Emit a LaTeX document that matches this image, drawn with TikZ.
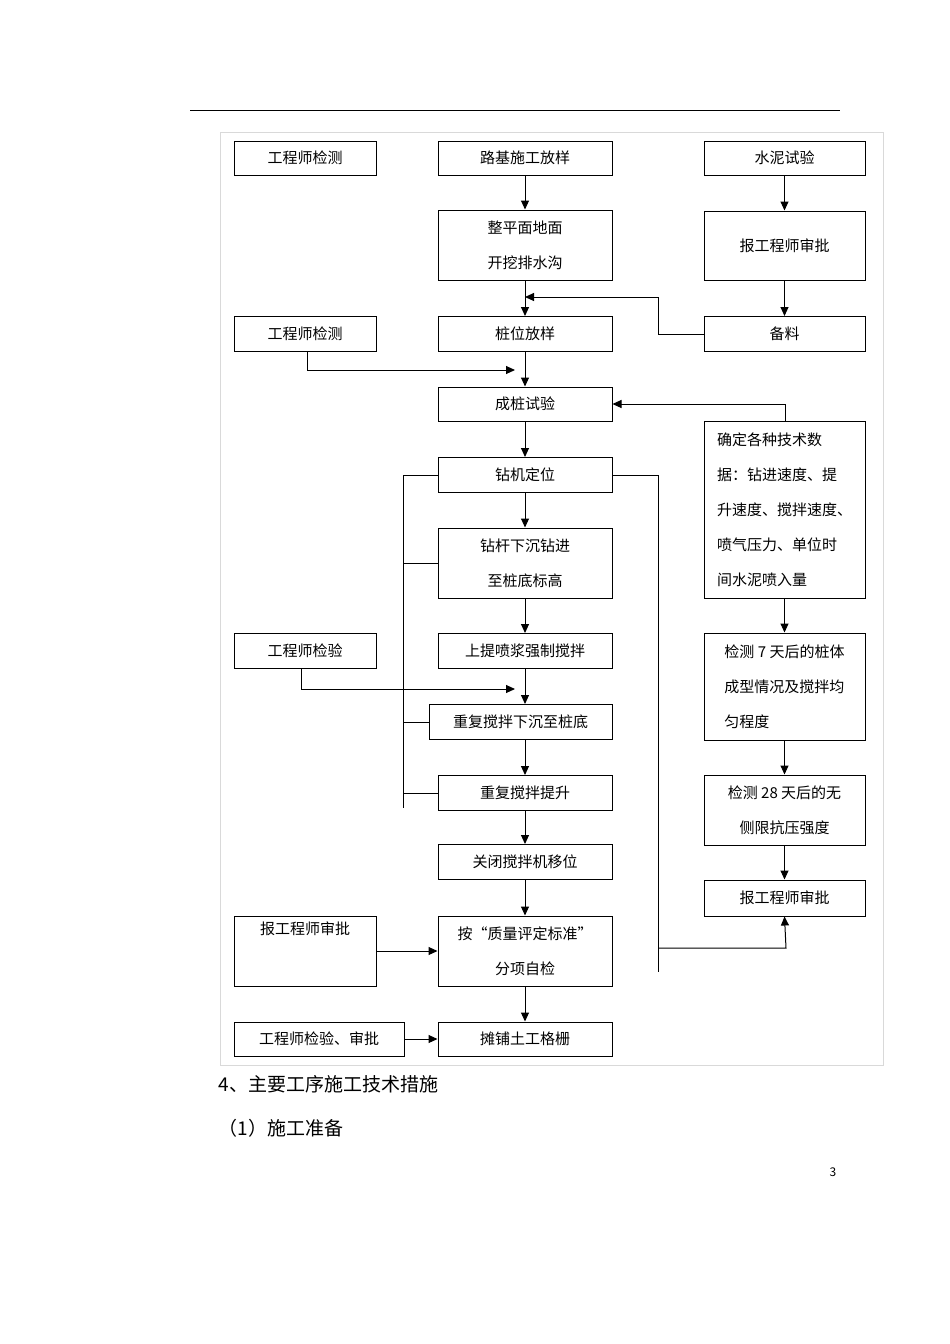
\documentclass[tikz,border=0pt]{standalone}
\usepackage{fontspec}
\setmainfont{Noto Sans CJK SC}
\usetikzlibrary{arrows.meta}
\usetikzlibrary{calc}
\begin{document}
\begin{tikzpicture}[x=1pt, y=-1pt, line width=1pt,
        box_style/.style={draw=black, rectangle, inner sep=0pt, font=\fontsize{15}{35}\selectfont},
        edge_style/.style={draw=black, line width=1pt, -{Triangle[length=9pt,width=8pt]}},
        line_style/.style={draw=black, line width=1pt}]
        \useasboundingbox (0,0) rectangle (950,1344);
        \draw [line width=0.8pt] (190,110) -- (840,110);
        \draw [draw=black!15] (220,132) rectangle (883,1065);

        % left column
        \node [box_style, minimum width=142, minimum height=34](a1) at (305,158) {工程师检测};
        \node [box_style, minimum width=142, minimum height=35](a2) at (305,334) {工程师检测};
        \node [box_style, minimum width=142, minimum height=35](a3) at (305,651) {工程师检验};
        \node [box_style, minimum width=142, minimum height=70, align=center](a4) at (305,951) {报工程师审批\\ \strut};
        \node [box_style, minimum width=170, minimum height=34](a5) at (319,1039) {工程师检验、审批};

        % middle column
        \node [box_style, minimum width=174, minimum height=34](b1) at (525,158) {路基施工放样};
        \node [box_style, minimum width=174, minimum height=70, align=center](b2) at (525,245) {整平面地面\\开挖排水沟};
        \node [box_style, minimum width=174, minimum height=35](b3) at (525,334) {桩位放样};
        \node [box_style, minimum width=174, minimum height=34](b4) at (525,404) {成桩试验};
        \node [box_style, minimum width=174, minimum height=35](b5) at (525,475) {钻机定位};
        \node [box_style, minimum width=174, minimum height=70, align=center](b6) at (525,563) {钻杆下沉钻进\\至桩底标高};
        \node [box_style, minimum width=174, minimum height=35](b7) at (525,651) {上提喷浆强制搅拌};
        \node [box_style, minimum width=183, minimum height=35](b8) at (520.5,722) {重复搅拌下沉至桩底};
        \node [box_style, minimum width=174, minimum height=35](b9) at (525,793) {重复搅拌提升};
        \node [box_style, minimum width=174, minimum height=35](b10) at (525,862) {关闭搅拌机移位};
        \node [box_style, minimum width=174, minimum height=70, align=center](b11) at (525,951) {按“质量评定标准”\\分项自检};
        \node [box_style, minimum width=174, minimum height=34](b12) at (525,1039) {摊铺土工格栅};

        % right column
        \node [box_style, minimum width=161, minimum height=34](c1) at (784.5,158) {水泥试验};
        \node [box_style, minimum width=161, minimum height=69](c2) at (784.5,245.5) {报工程师审批};
        \node [box_style, minimum width=161, minimum height=35](c3) at (784.5,334) {备料};
        \node [box_style, minimum width=161, minimum height=177, align=left](c4) at (784.5,509.5) {确定各种技术数\\据：钻进速度、提\\升速度、搅拌速度、\\喷气压力、单位时\\间水泥喷入量};
        \node [box_style, minimum width=161, minimum height=107, align=left](c5) at (784.5,686.5) {检测 7 天后的桩体\\成型情况及搅拌均\\匀程度};
        \node [box_style, minimum width=161, minimum height=70, align=center](c6) at (784.5,810) {检测 28 天后的无\\侧限抗压强度};
        \node [box_style, minimum width=161, minimum height=36](c7) at (784.5,898) {报工程师审批};

        \coordinate (p1) at (658,334);
        \coordinate (p2) at (658,297);
        \coordinate (p3) at (307,370);
        \coordinate (p4) at (785,404);
        \coordinate (p5) at (403,475);
        \coordinate (p6) at (403,808);
        \coordinate (p7) at (301,689);
        \coordinate (p8) at (658,475);
        \coordinate (p9) at (658,972);
        \coordinate (p10) at (786,948);

        \draw [edge_style] (b1) -- (b2);
        \draw [edge_style] (b2) -- (b3);
        \draw [edge_style] (b3) -- (b4);
        \draw [edge_style] (b4) -- (b5);
        \draw [edge_style] (b5) -- (b6);
        \draw [edge_style] (b6) -- (b7);
        \draw [edge_style] (b7) -- (b8.north -| b7);
        \draw [edge_style] (b8.south -| b7) -- (b9);
        \draw [edge_style] (b9) -- (b10);
        \draw [edge_style] (b10) -- (b11);
        \draw [edge_style] (b11) -- (b12);
        \draw [edge_style] (c1) -- (c2);
        \draw [edge_style] (c2) -- (c3);
        \draw [edge_style] (c4) -- (c5);
        \draw [edge_style] (c5) -- (c6);
        \draw [edge_style] (c6) -- (c7);
        \draw [edge_style] (c3.west) -- (p1) -- (p2) -- (525,297);
        \draw [edge_style] (a2.south -| p3) -- (p3) -- (515,370);
        \draw [edge_style] (c4.north -| p4) -- (p4) -- (b4.east);
        \draw [edge_style] (a3.south -| p7) -- (p7) -- (515,689);
        \draw [edge_style] (a4.east) -- (b11.west);
        \draw [edge_style] (a5) -- (b12);
        \draw [line_style] (p5) -- (p6);
        \draw [line_style] (p5) -- (b5.west);
        \draw [line_style] (b6.west -| p5) -- (b6.west);
        \draw [line_style] (b8.west -| p5) -- (b8.west);
        \draw [line_style] (b9.west -| p5) -- (b9.west);
        \draw [line_style] (b5.east) -- (p8) -- (p9);
        \draw [edge_style] (p10 -| p8) -- (p10) -- (c7.south);

        \node [anchor=west, font=\fontsize{19}{19}\selectfont](t1) at (215,1084) {4、主要工序施工技术措施};
        \node [anchor=west, font=\fontsize{19}{19}\selectfont](t2) at (215,1128) {（1）施工准备};
        \node [font=\fontsize{12}{12}\selectfont](t3) at (833,1172) {3};
\end{tikzpicture}
\end{document}
